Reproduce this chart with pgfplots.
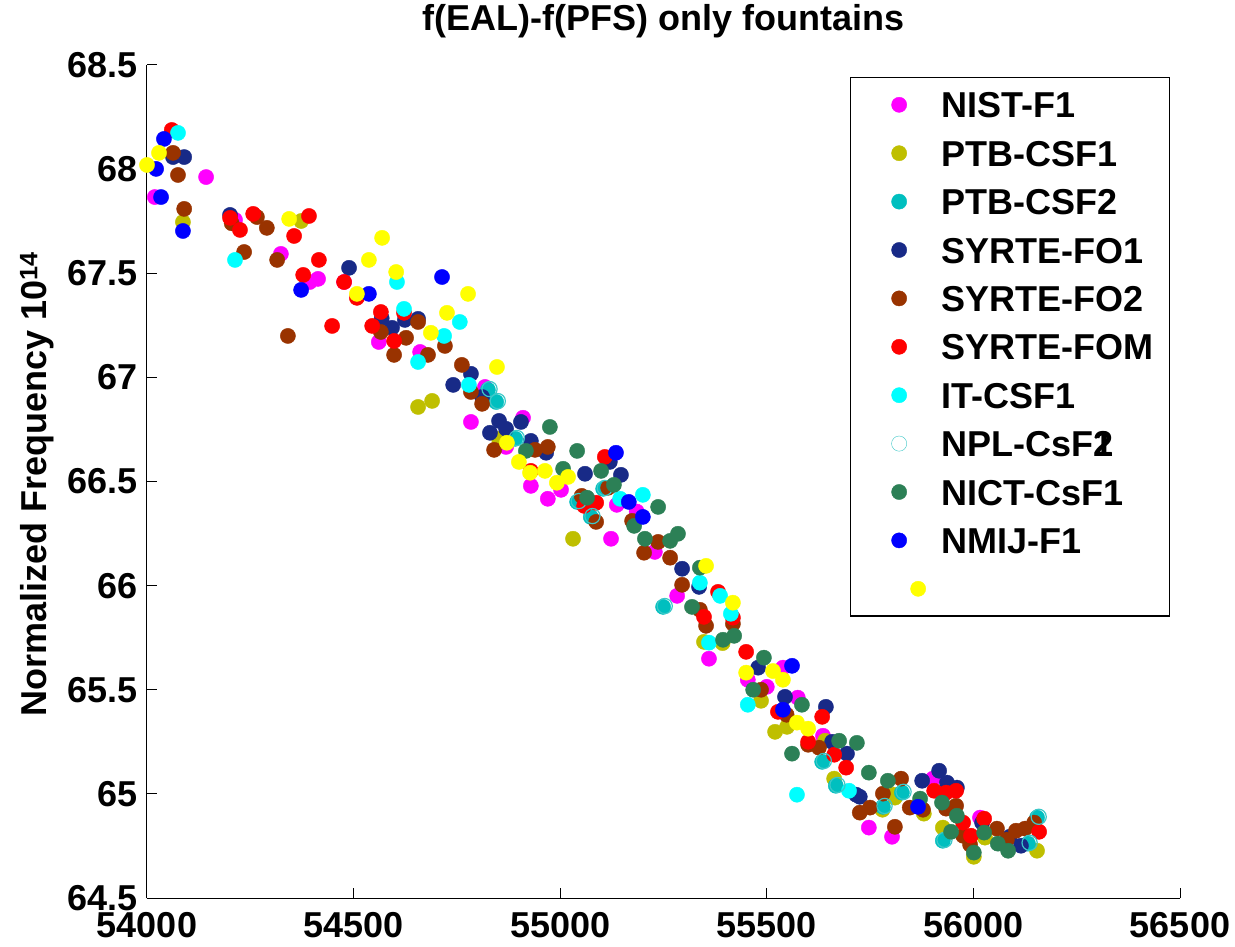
\documentclass[border=0pt]{standalone}
\usepackage{pgfplots}
\pgfplotsset{compat=1.18}
\usepackage{fontspec}
\setmainfont{Liberation Sans}
\definecolor{cNIST}{RGB}{255,0,255}
\definecolor{cPTBa}{RGB}{191,191,0}
\definecolor{cPTBb}{RGB}{0,191,191}
\definecolor{cNPL}{RGB}{60,200,200}
\definecolor{cFOa}{RGB}{24,42,135}
\definecolor{cFOb}{RGB}{153,51,0}
\definecolor{cFOM}{RGB}{255,0,0}
\definecolor{cIT}{RGB}{0,255,255}
\definecolor{cNICT}{RGB}{44,128,86}
\definecolor{cNMIJ}{RGB}{0,0,255}
\definecolor{cYel}{RGB}{255,255,0}
\newcommand{\fs}{\fontsize{36}{43}\selectfont\bfseries}
\pgfplotsset{
  dot/.style={only marks, mark=*, mark size=7.6pt, line width=0.4pt,
    legend image code/.code={\draw[line width=0.4pt, ##1] plot coordinates {(48pt,0pt)}; \path (0pt,-4pt) (90pt,4pt);}},
  dotshift/.style={only marks, mark=*, mark size=7.6pt, line width=0.4pt,
    legend image code/.code={\draw[line width=0.4pt, ##1] plot coordinates {(67pt,0pt)}; \path (0pt,-4pt) (90pt,4pt);}},
}
\begin{document}
\begin{tikzpicture}
\begin{axis}[
  at={(147pt,48pt)}, anchor=south west,
  width=1033pt, height=833pt, scale only axis,
  xmin=54000, xmax=56500, ymin=64.5, ymax=68.5,
  xtick={54000,54500,55000,55500,56000,56500},
  ytick={64.5,65,65.5,66,66.5,67,67.5,68,68.5},
  scaled ticks=false,
  /pgf/number format/1000 sep={},
  /pgf/number format/assume math mode=true,
  axis x line*=bottom, axis y line*=left,
  axis line style={black, line width=1pt},
  tick align=inside, major tick length=10pt,
  tick style={black, line width=1pt},
  tick label style={font=\fs},
  xticklabel style={inner sep=0pt, yshift=-14pt},
  yticklabel style={inner sep=0pt, xshift=-9pt},
  clip=false,
  title={f(EAL)-f(PFS) only fountains},
  title style={font=\fs, at={(axis description cs:0.5,1)}, anchor=center, inner sep=0pt, yshift=38pt},
  ylabel={Normalized Frequency 10\textsuperscript{14}},
  ylabel style={font=\fs, at={(axis description cs:-0.1065,0.497)}, anchor=center, inner sep=0pt},
  legend style={at={(0.6805,0.9856)}, anchor=north west, draw=black, line width=1.2pt, fill=white,
    inner xsep=0pt, inner ysep=3pt, row sep=0pt, column sep=0pt, font=\fs,
    nodes={inner xsep=0pt, inner ysep=0pt, text width=228pt, text height=26pt, text depth=0pt, minimum height=48.4pt},
    cells={anchor=west}},
]
\addplot[dot, color=cNIST] coordinates {
(54143,67.962)(54019,67.866)(54324,67.593)(54414,67.473)(54394,67.458)(54477,67.458)(54213,67.756)(54561,67.170)(54661,67.122)(54818,66.954)(54784,66.786)(54910,66.806)(54869,66.666)(54929,66.479)(55002,66.46)(54970,66.417)(55137,66.388)(55123,66.225)(55229,66.162)(55185,66.356)(55283,65.951)(55360,65.649)(55454,65.548)(55539,65.606)(55500,65.514)(55575,65.462)(55636,65.279)(55902,65.073)(55747,64.838)(55803,64.794)(56016,64.886)
};
\addlegendentry{NIST-F1}
\addplot[dot, color=cPTBa] coordinates {
(54087,67.746)(54373,67.751)(54656,66.858)(54690,66.887)(54852,66.705)(55031,66.225)(55348,65.730)(55393,65.724)(55486,65.447)(55520,65.298)(55549,65.322)(55641,65.255)(55663,65.073)(55810,64.982)(55780,64.924)(55807,64.996)(55880,64.905)(55926,64.838)(56001,64.698)(56028,64.790)(56154,64.727)
};
\addlegendentry{PTB-CSF1}
\addplot[dot, color=cPTBb] coordinates {
(54825,66.94)(54845,66.882)(54891,66.705)(55104,66.465)(55041,66.402)(55074,66.330)(55249,65.898)(55634,65.154)(55667,65.039)(55827,65.006)(55781,64.938)(55926,64.775)(56132,64.761)(56154,64.886)
};
\addlegendentry{PTB-CSF2}
\addplot[dot, color=cFOa] coordinates {
(54063,68.058)(54090,68.058)(54201,67.78)(54489,67.526)(54593,67.238)(54656,67.281)(54624,67.276)(54568,67.284)(54784,67.017)(54741,66.964)(54811,66.906)(54852,66.791)(54830,66.734)(54869,66.753)(54905,66.786)(54929,66.695)(54966,66.638)(55120,66.594)(55060,66.537)(55147,66.532)(55295,66.081)(55336,65.994)(55479,65.606)(55544,65.466)(55643,65.418)(55658,65.25)(55694,65.193)(55716,64.996)(55917,65.111)(55876,65.063)(55936,65.054)(55960,65.030)(55725,64.986)(56021,64.862)(56088,64.794)(56115,64.751)
};
\addlegendentry{SYRTE-FO1}
\addplot[dot, color=cFOb] coordinates {
(54063,68.078)(54075,67.972)(54090,67.809)(54235,67.602)(54266,67.770)(54290,67.718)(54205,67.740)(54315,67.564)(54341,67.199)(54566,67.218)(54627,67.190)(54656,67.266)(54598,67.108)(54680,67.108)(54721,67.151)(54762,67.06)(54784,66.930)(54811,66.873)(54840,66.652)(54939,66.652)(54970,66.666)(55116,66.47)(55087,66.306)(55174,66.311)(55052,66.431)(55237,66.21)(55203,66.158)(55266,66.134)(55295,66.004)(55418,65.817)(55353,65.807)(55338,65.884)(55486,65.5)(55548,65.38)(55600,65.236)(55626,65.222)(55825,65.073)(55781,65.001)(55750,64.934)(55810,64.842)(55846,64.934)(55878,64.924)(55958,64.943)(55934,64.929)(55975,64.799)(55992,64.756)(56057,64.833)(56081,64.78)(56103,64.823)(56125,64.833)(56147,64.862)(55725,64.91)
};
\addlegendentry{SYRTE-FO2}
\addplot[dot, color=cFOM] coordinates {
(54060,68.188)(54201,67.766)(54225,67.708)(54257,67.785)(54392,67.775)(54356,67.679)(54416,67.564)(54378,67.492)(54477,67.458)(54508,67.382)(54448,67.247)(54566,67.314)(54545,67.247)(54598,67.175)(54622,67.310)(55108,66.618)(54929,66.551)(55058,66.383)(55087,66.398)(55382,65.970)(55418,65.846)(55348,65.850)(55450,65.682)(55634,65.370)(55527,65.394)(55600,65.25)(55663,65.188)(55692,65.126)(55905,65.015)(55934,65.006)(55958,65.015)(55975,64.862)(55994,64.799)(56026,64.881)(56159,64.818)
};
\addlegendentry{SYRTE-FOM}
\addplot[dot, color=cIT] coordinates {
(54075,68.174)(54213,67.564)(54605,67.458)(54622,67.329)(54757,67.266)(54719,67.199)(54656,67.074)(54779,66.964)(55145,66.417)(55200,66.436)(55338,66.014)(55387,65.951)(55413,65.865)(55360,65.726)(55454,65.428)(55573,64.996)(55699,65.015)
};
\addlegendentry{IT-CSF1}
\addplot[dot, mark=o, color=cNPL, line width=1.2pt] coordinates {
(54829,66.944)(54849,66.886)(54895,66.709)(55108,66.469)(55045,66.406)(55078,66.334)(55253,65.902)(55638,65.158)(55671,65.043)(55831,65.010)(55785,64.942)(55930,64.779)(56136,64.765)(56158,64.890)
};
\addlegendentry{NPL-CsF\rlap{1}2}
\addplot[dot, color=cNICT] coordinates {
(54975,66.762)(54917,66.647)(55041,66.647)(55007,66.561)(55099,66.551)(55130,66.484)(55065,66.422)(55237,66.378)(55179,66.287)(55205,66.225)(55266,66.215)(55285,66.249)(55338,66.086)(55319,65.898)(55394,65.74)(55421,65.759)(55493,65.654)(55467,65.5)(55585,65.428)(55561,65.193)(55675,65.255)(55718,65.245)(55747,65.102)(55793,65.063)(55871,64.977)(55924,64.958)(55960,64.895)(55946,64.818)(56001,64.718)(56026,64.814)(56059,64.761)(56084,64.727)
};
\addlegendentry{NICT-CsF1}
\addplot[dot, color=cNMIJ] coordinates {
(54041,68.145)(54022,68.001)(54034,67.866)(54087,67.703)(54373,67.42)(54537,67.401)(54714,67.482)(55135,66.638)(55166,66.402)(55200,66.33)(55561,65.615)(55539,65.404)(55866,64.938)
};
\addlegendentry{NMIJ-F1}
\addplot[dotshift, color=cYel] coordinates {
(54000,68.02)(54029,68.078)(54344,67.761)(54508,67.401)(54537,67.564)(54569,67.670)(54603,67.506)(54726,67.310)(54687,67.214)(54777,67.401)(54847,67.05)(54871,66.686)(54900,66.594)(54927,66.542)(54963,66.551)(54992,66.494)(55019,66.522)(55353,66.095)(55418,65.918)(55450,65.582)(55515,65.59)(55539,65.548)(55573,65.342)(55600,65.313)
};
\addlegendentry{}
\end{axis}
\pgfresetboundingbox
\useasboundingbox (0pt,0pt) rectangle (1235pt,946pt);
\end{tikzpicture}
\end{document}
